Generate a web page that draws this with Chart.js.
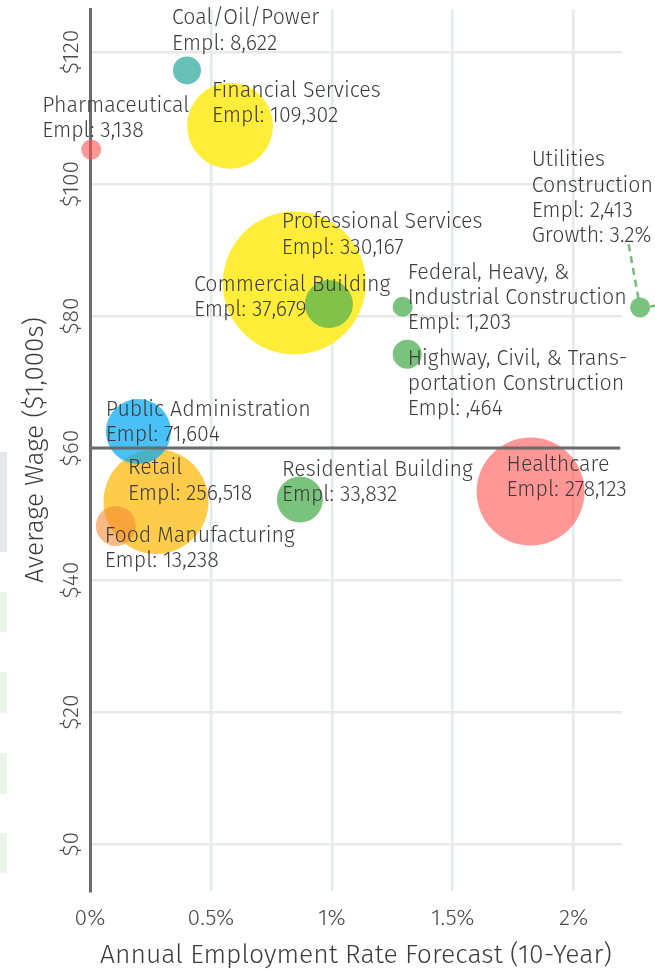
<!DOCTYPE html>
<html><head><meta charset="utf-8">
<script src="https://cdn.jsdelivr.net/npm/chart.js@4.4.1/dist/chart.umd.min.js"></script>
<style>
html,body{margin:0;padding:0;background:#fff;width:655px;height:972px;overflow:hidden;}
#wrap{position:relative;width:655px;height:972px;}
canvas{position:absolute;left:0;top:0;}
.side{position:absolute;left:0;width:7px;z-index:2;}
</style></head><body>
<div id="wrap">
<canvas id="c" width="655" height="972"></canvas>
<div class="side" style="top:452px;height:100px;background:#e6e7e8"></div>
<div class="side" style="top:592px;height:40px;background:#eaf4e8"></div>
<div class="side" style="top:672px;height:41px;background:#eaf4e8"></div>
<div class="side" style="top:753px;height:41px;background:#eaf4e8"></div>
<div class="side" style="top:833px;height:40px;background:#eaf4e8"></div>
</div>
<script>
// ---- data ----
const industries = ['Professional Services','Healthcare','Retail','Financial Services','Public Administration',
  'Commercial Building','Residential Building','Food Manufacturing','Coal/Oil/Power',
  'Highway, Civil, & Transportation Construction','Pharmaceutical','Federal, Heavy, & Industrial Construction','Utilities Construction'];
const growthRate = [0.845, 1.822, 0.273, 0.579, 0.200, 0.988, 0.868, 0.107, 0.401, 1.312, 0.005, 1.293, 2.275]; // % per year (10-yr forecast); Utilities shown pinned at the edge
const avgWage    = [85.0, 53.4, 51.9, 108.8, 62.5, 81.8, 52.2, 48.2, 117.2, 74.2, 105.2, 81.4, 81.3];          // $1,000s
const bubbleRadius = [71.5, 54, 52.5, 43, 32.5, 24, 23, 20, 14, 14.5, 10, 10, 10];
const labelLines = [
  ['Professional Services','Empl: 330,167'],
  ['Healthcare','Empl: 278,123'],
  ['Retail','Empl: 256,518'],
  ['Financial Services','Empl: 109,302'],
  ['Public Administration','Empl: 71,604'],
  ['Commercial Building','Empl: 37,679'],
  ['Residential Building','Empl: 33,832'],
  ['Food Manufacturing','Empl: 13,238'],
  ['Coal/Oil/Power','Empl: 8,622'],
  ['Highway, Civil, & Trans-','portation Construction','Empl: ,464'],
  ['Pharmaceutical','Empl: 3,138'],
  ['Federal, Heavy, &','Industrial Construction','Empl: 1,203'],
  ['Utilities','Construction','Empl: 2,413','Growth: 3.2%']
];
const xTickValues = [0, 0.5, 1, 1.5, 2];
const yTickValues = [0, 20, 40, 60, 80, 100, 120];
const referenceWage = 60;

// ---- styles ----
const bubbleColors = [
  'rgba(255,235,40,0.92)','rgba(255,82,82,0.6)','rgba(255,190,30,0.8)','rgba(255,235,40,0.92)','rgba(3,169,244,0.72)',
  'rgba(76,175,80,0.7)','rgba(76,175,80,0.75)','rgba(242,140,50,0.6)','rgba(38,166,154,0.7)',
  'rgba(76,175,80,0.75)','rgba(255,82,82,0.6)','rgba(76,175,80,0.75)','rgba(76,175,80,0.75)'
];
const labelOffsets = [[-12.5,-54.5],[-24,-21],[-28,-27],[-18,-29],[-32.5,-16],[-135,-13.5],[-18,-24],[-11,16],[-15,-46],[0.5,10.5],[-49,-38],[5,-28],[-108.5,-141]];
const FONT = '"Fira Sans","Open Sans","Noto Sans",sans-serif';

function noPad(s) { s.paddingTop = 0; s.paddingBottom = 0; s.paddingLeft = 0; s.paddingRight = 0; }

const labelPlugin = {
  id: 'bubbleLabels',
  afterDatasetsDraw(chart) {
    const {ctx, scales:{x, y}, chartArea} = chart;
    const meta = chart.getDatasetMeta(0);
    ctx.save();
    // points pinned outside the plotting area (library skips them)
    meta.data.forEach((pt, i) => {
      if (pt.x > chartArea.right || pt.x < chartArea.left) {
        ctx.fillStyle = bubbleColors[i];
        ctx.beginPath(); ctx.arc(pt.x, pt.y, bubbleRadius[i], 0, Math.PI * 2); ctx.fill();
      }
    });
    // reference wage line
    const yr = y.getPixelForValue(referenceWage);
    ctx.strokeStyle = '#6b6b6b'; ctx.lineWidth = 3;
    ctx.beginPath(); ctx.moveTo(chartArea.left, yr); ctx.lineTo(chartArea.right - 2, yr); ctx.stroke();
    // leader for the off-scale Utilities point
    const last = meta.data[meta.data.length - 1];
    ctx.strokeStyle = 'rgba(76,175,80,0.8)'; ctx.lineWidth = 2.5;
    ctx.setLineDash([7, 5]);
    ctx.beginPath(); ctx.moveTo(last.x - 11.5, last.y - 63); ctx.lineTo(last.x - 1.5, last.y - 8); ctx.stroke();
    ctx.setLineDash([]);
    ctx.beginPath(); ctx.moveTo(last.x + 10, last.y - 1); ctx.lineTo(last.x + 30, last.y - 4); ctx.stroke();
    // text labels
    ctx.font = '300 21.4px ' + FONT;
    ctx.fillStyle = '#3c3c3c';
    ctx.textBaseline = 'alphabetic'; ctx.textAlign = 'left';
    meta.data.forEach((pt, i) => {
      const [dx, dy] = labelOffsets[i];
      labelLines[i].forEach((line, k) => ctx.fillText(line, pt.x + dx, pt.y + dy + k * 25.3));
    });
    ctx.restore();
  }
};

new Chart(document.getElementById('c'), {
  type: 'bubble',
  data: {
    datasets: [{
      label: 'Industries',
      data: industries.map((n, i) => ({x: growthRate[i], y: avgWage[i], r: bubbleRadius[i]})),
      backgroundColor: bubbleColors,
      borderWidth: 0,
      clip: false
    }]
  },
  options: {
    responsive: false,
    animation: false,
    devicePixelRatio: 1,
    layout: {autoPadding: false, padding: {top: 9, right: 33, left: 0, bottom: 0}},
    plugins: {legend: {display: false}, tooltip: {enabled: false}},
    scales: {
      x: {
        type: 'linear', min: 0, max: 2.2,
        afterBuildTicks: s => { s.ticks = xTickValues.map(v => ({value: v})); },
        afterFit: s => { s.height = 81; noPad(s); },
        grid: {color: '#e5eae8', lineWidth: 2.5, drawTicks: false},
        border: {display: false},
        ticks: {padding: 14, color: '#4a4a4a', font: {family: FONT, size: 23, weight: 300},
                callback: v => v + '%', maxRotation: 0},
        title: {display: true, text: 'Annual Employment Rate Forecast (10-Year)', color: '#3c3c3c',
                font: {family: FONT, size: 26.5, weight: 300}, padding: {top: 0, bottom: 0}}
      },
      y: {
        type: 'linear', min: -7.1, max: 126.5,
        afterBuildTicks: s => { s.ticks = yTickValues.map(v => ({value: v})); },
        afterFit: s => { s.width = 90; noPad(s); },
        grid: {color: '#e5eae8', lineWidth: 2.5, drawTicks: false},
        border: {display: true, color: '#6b6b6b', width: 3},
        ticks: {padding: -5, crossAlign: 'center', minRotation: 90, maxRotation: 90, color: '#4a4a4a',
                font: {family: FONT, size: 23, weight: 300}, callback: v => '$' + v},
        title: {display: true, text: 'Average Wage ($1,000s)', color: '#3c3c3c',
                font: {family: FONT, size: 26, weight: 300}, padding: {top: 20, bottom: 0}}
      }
    }
  },
  plugins: [labelPlugin]
});
</script>
</body></html>
